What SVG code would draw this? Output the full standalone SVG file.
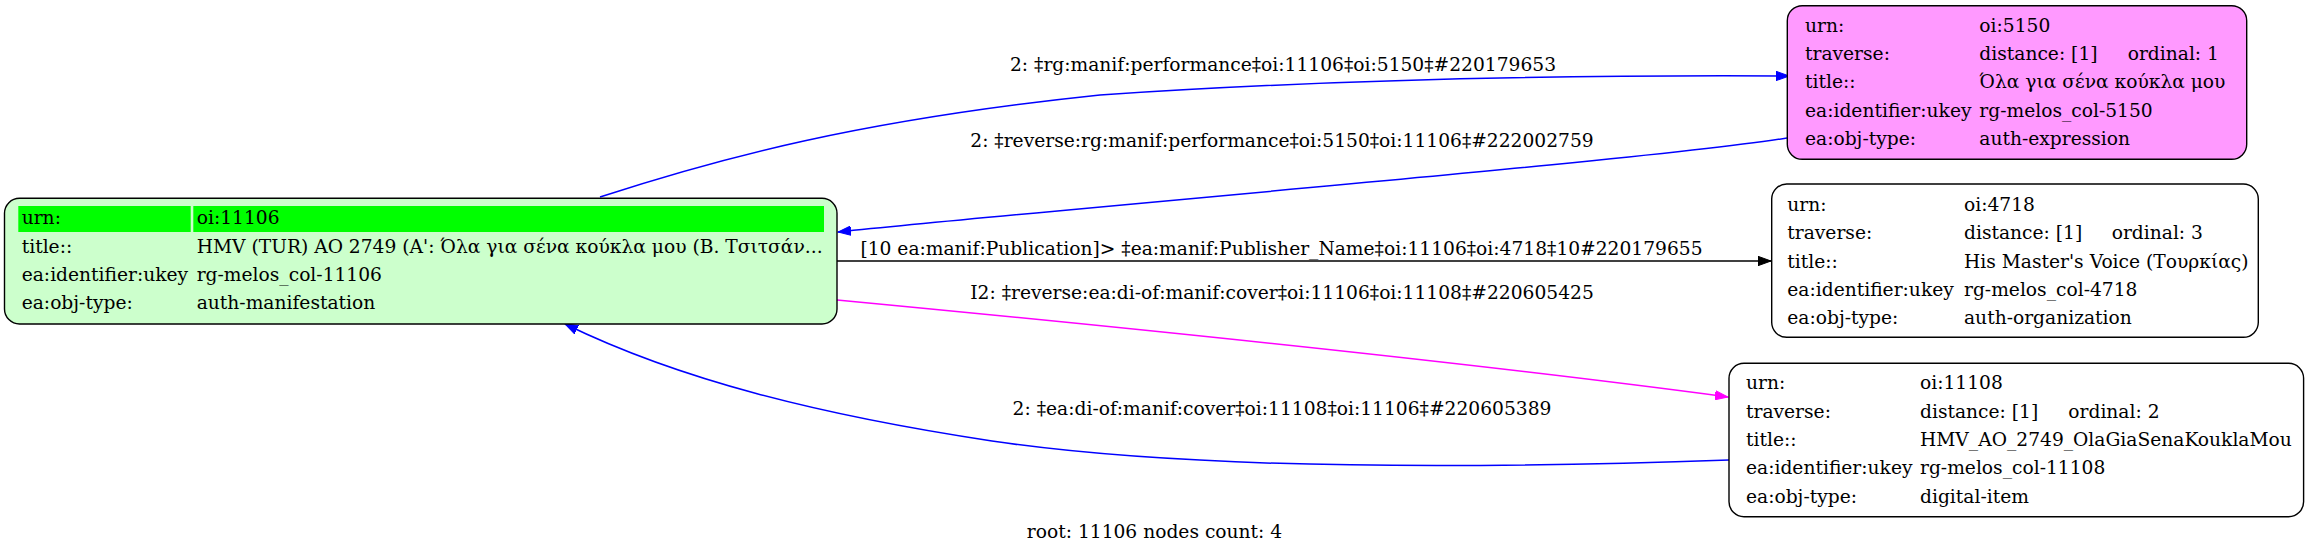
<svg xmlns="http://www.w3.org/2000/svg" width="2311" height="553" viewBox="0 0 2311 553">
<style>
text{font-family:"DejaVu Serif","Liberation Serif",serif;font-size:18.67px;fill:#000}
.box{stroke:#000;stroke-width:1.4}
.e{fill:none;stroke-width:1.5}
.lbl{text-anchor:middle}
</style>
<defs>
<marker id="ab" markerUnits="userSpaceOnUse" markerWidth="14" markerHeight="10" refX="13" refY="5" orient="auto"><path d="M0,0.3 L13,5 L0,9.7 z" fill="#0000ff" stroke="#0000ff"/></marker>
<marker id="ak" markerUnits="userSpaceOnUse" markerWidth="14" markerHeight="10" refX="13" refY="5" orient="auto"><path d="M0,0.3 L13,5 L0,9.7 z" fill="#000" stroke="#000"/></marker>
<marker id="am" markerUnits="userSpaceOnUse" markerWidth="14" markerHeight="10" refX="13" refY="5" orient="auto"><path d="M0,0.3 L13,5 L0,9.7 z" fill="#ff00ff" stroke="#ff00ff"/></marker>
</defs>
<rect width="2311" height="553" fill="#fff"/>
<g id="edges">
<path class="e" stroke="#0000ff" marker-end="url(#ab)" d="M600,197 C720,158 860,120 1100,95 C1350,78 1600,75 1789,76"/>
<text class="lbl" x="1283" y="70.5">2: ‡rg:manif:performance‡oi:11106‡oi:5150‡#220179653</text>
<path class="e" stroke="#0000ff" marker-end="url(#ab)" d="M1787,138 C1650,160 1100,205 838,232"/>
<text class="lbl" x="1282" y="146.5">2: ‡reverse:rg:manif:performance‡oi:5150‡oi:11106‡#222002759</text>
<path class="e" stroke="#000" marker-end="url(#ak)" d="M837,261 L1771,261"/>
<text class="lbl" x="1281.5" y="255">[10 ea:manif:Publication]&gt; ‡ea:manif:Publisher_Name‡oi:11106‡oi:4718‡10#220179655</text>
<path class="e" stroke="#ff00ff" marker-end="url(#am)" d="M837,300 C1100,325 1450,360 1728,397"/>
<text class="lbl" x="1282" y="299">I2: ‡reverse:ea:di-of:manif:cover‡oi:11106‡oi:11108‡#220605425</text>
<path class="e" stroke="#0000ff" marker-end="url(#ab)" d="M1729,460 C1500,468 1200,472 992,441 C820,415 680,380 565,324"/>
<text class="lbl" x="1282" y="415">2: ‡ea:di-of:manif:cover‡oi:11108‡oi:11106‡#220605389</text>
</g>
<g id="node-11106">
<rect class="box" x="4.5" y="198.3" width="832.5" height="125.7" rx="15" fill="#ccffcc"/>
<rect x="18.3" y="206" width="172.4" height="26" fill="#00ff00"/>
<rect x="193.3" y="206" width="630.7" height="26" fill="#00ff00"/>
<text x="21.7" y="224.3">urn:</text><text x="196.7" y="224.3">oi:11106</text>
<text x="21.7" y="252.7">title::</text><text x="196.7" y="252.7">HMV (TUR) AO 2749 (Α': Όλα για σένα κούκλα μου (Β. Τσιτσάν...</text>
<text x="21.7" y="280.7">ea:identifier:ukey</text><text x="196.7" y="280.7">rg-melos_col-11106</text>
<text x="21.7" y="309">ea:obj-type:</text><text x="196.7" y="309">auth-manifestation</text>
</g>
<g id="node-5150">
<rect class="box" x="1787.3" y="5.7" width="459.4" height="153.6" rx="15" fill="#ff99ff"/>
<text x="1805" y="31.7">urn:</text><text x="1979.3" y="31.7">oi:5150</text>
<text x="1805" y="60">traverse:</text><text x="1979.3" y="60">distance: [1]</text><text x="2127.7" y="60">ordinal: 1</text>
<text x="1805" y="88.3">title::</text><text x="1979.3" y="88.3">Όλα για σένα κούκλα μου</text>
<text x="1805" y="116.7">ea:identifier:ukey</text><text x="1979.3" y="116.7">rg-melos_col-5150</text>
<text x="1805" y="144.5">ea:obj-type:</text><text x="1979.3" y="144.5">auth-expression</text>
</g>
<g id="node-4718">
<rect class="box" x="1771.7" y="184" width="486.6" height="153.3" rx="15" fill="#fff"/>
<text x="1787.3" y="211">urn:</text><text x="1964" y="211">oi:4718</text>
<text x="1787.3" y="239.3">traverse:</text><text x="1964" y="239.3">distance: [1]</text><text x="2111.7" y="239.3">ordinal: 3</text>
<text x="1787.3" y="267.7">title::</text><text x="1964" y="267.7">His Master's Voice (Τουρκίας)</text>
<text x="1787.3" y="296">ea:identifier:ukey</text><text x="1964" y="296">rg-melos_col-4718</text>
<text x="1787.3" y="324">ea:obj-type:</text><text x="1964" y="324">auth-organization</text>
</g>
<g id="node-11108">
<rect class="box" x="1729" y="363.3" width="574.6" height="153.4" rx="15" fill="#fff"/>
<text x="1746" y="389.3">urn:</text><text x="1920" y="389.3">oi:11108</text>
<text x="1746" y="417.7">traverse:</text><text x="1920" y="417.7">distance: [1]</text><text x="2068.3" y="417.7">ordinal: 2</text>
<text x="1746" y="446">title::</text><text x="1920" y="446">HMV_AO_2749_OlaGiaSenaKouklaMou</text>
<text x="1746" y="474">ea:identifier:ukey</text><text x="1920" y="474">rg-melos_col-11108</text>
<text x="1746" y="502.5">ea:obj-type:</text><text x="1920" y="502.5">digital-item</text>
</g>
<text class="lbl" x="1154.5" y="537.7">root: 11106 nodes count: 4</text>
</svg>
